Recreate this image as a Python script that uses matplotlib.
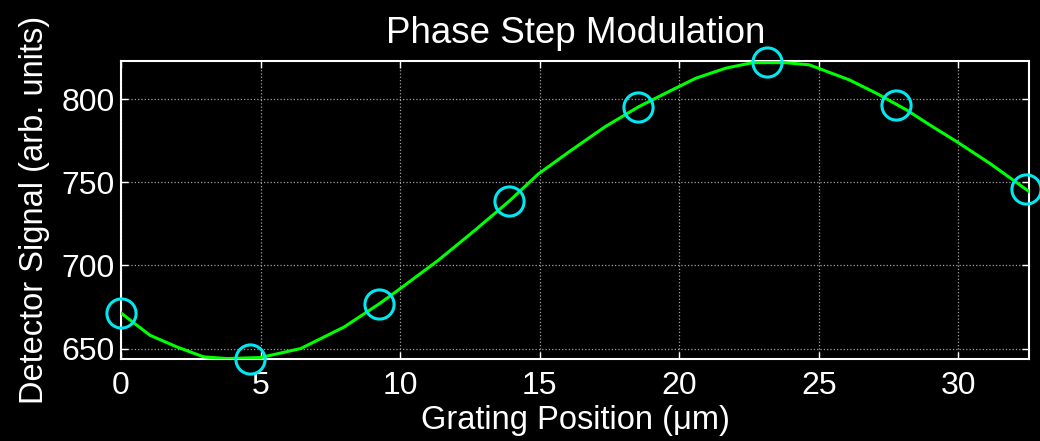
import matplotlib
matplotlib.use("Agg")
import matplotlib.pyplot as plt

# measured phase steps
step_pos = [0, 4.63, 9.26, 13.89, 18.52, 23.15, 27.78, 32.41]
step_signal = [671.4, 644.0, 677.0, 739.0, 795.5, 822.5, 796.5, 746.0]

# fitted curve
fit_pos = [0, 1.04, 2.0, 2.96, 3.8, 5.0, 6.44, 8.0, 9.26, 9.92, 10.4, 11.36,
           12.67, 13.93, 14.95, 16.15, 17.35, 18.55, 19.63, 20.59, 21.67,
           22.63, 23.8, 24.66, 26.1, 27.06, 28.14, 28.98, 29.94, 31.13, 32.55]
fit_signal = [671.4, 658, 651, 645, 644, 644.6, 650, 663, 677, 685, 691, 703,
              721, 739, 755, 769.5, 783.5, 795.5, 804.6, 812.6, 818.7,
              822, 822, 820.7, 811.6, 803.6, 793.6, 784.5, 774.5, 761.4, 744.3]

plt.rcParams['font.family'] = ['Liberation Sans', 'DejaVu Sans']

fig = plt.figure(figsize=(10.4, 4.41), dpi=100, facecolor='black')
ax = fig.add_axes([0.1163, 0.187, 0.8736, 0.6747], facecolor='black')

ax.plot(fit_pos, fit_signal, color='#00ff00', lw=2.2, zorder=3)
ax.plot(step_pos, step_signal, 'o', ms=21, mfc='none', mec='#00e8f0',
        mew=2.2, zorder=4, clip_on=False)

ax.set_xlim(0, 32.55)
ax.set_ylim(644, 823)
ax.set_xticks([0, 5, 10, 15, 20, 25, 30])
ax.set_yticks([650, 700, 750, 800])

ax.grid(True, color='#a0a0a0', ls=':', lw=0.9)
for s in ax.spines.values():
    s.set_color('white')
    s.set_linewidth(1.5)
ax.tick_params(direction='in', length=5, width=1, colors='white',
               labelsize=23, top=True, right=True)
ax.tick_params(axis='x', pad=9)
ax.tick_params(axis='y', pad=4.5)

ax.set_title('Phase Step Modulation', color='white', fontsize=26.5, pad=13)
ax.set_xlabel('Grating Position (\u03bcm)', color='white', fontsize=23.5,
              labelpad=3)
ax.set_ylabel('Detector Signal (arb. units)', color='white', fontsize=23.5,
              labelpad=8)

fig.savefig('out.png', dpi=100, facecolor='black')
